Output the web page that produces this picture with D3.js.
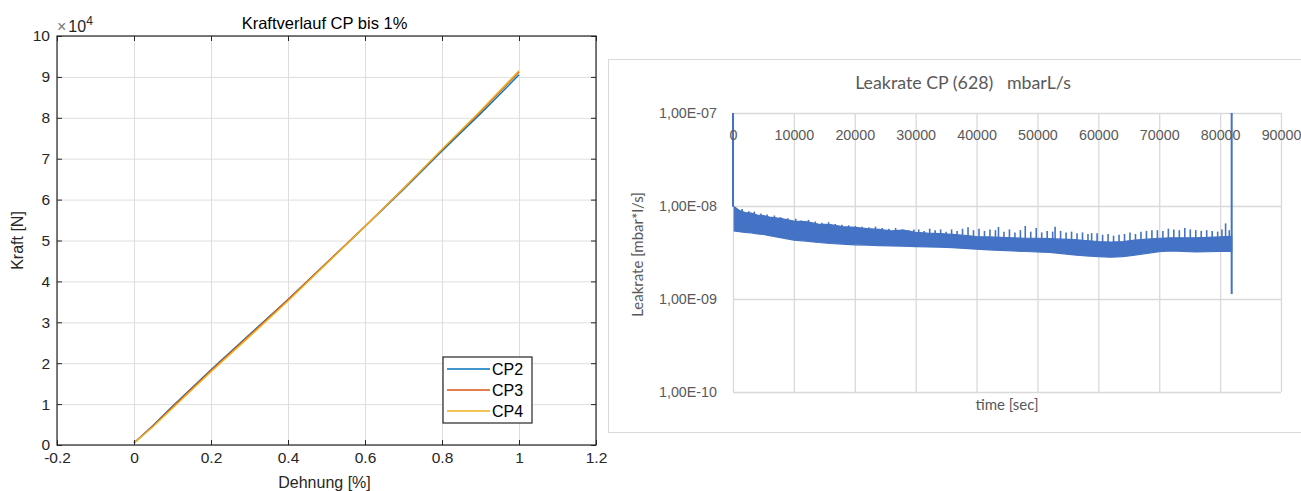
<!DOCTYPE html>
<html><head><meta charset="utf-8">
<script src="https://cdn.jsdelivr.net/npm/d3@7"></script>
<style>
body{margin:0;background:#fff}
text{font-kerning:normal}
</style>
</head><body>
<svg id="c" width="1301" height="491"></svg>
<script>
// ---------- Left chart data (Kraftverlauf) ----------
const strain = [0, 0.05, 0.1, 0.2, 0.3, 0.4, 0.5, 0.6, 0.7, 0.8, 0.9, 1.0];
const forceCP2 = [500, 4800, 9500, 18400, 27000, 35600, 44500, 53400, 62500, 71900, 81000, 90500];
const forceCP3 = [500, 4700, 9300, 18200, 26800, 35500, 44500, 53500, 62700, 72200, 81500, 91200];
const forceCP4 = [500, 4500, 9000, 17900, 26500, 35200, 44300, 53400, 62700, 72300, 81700, 91500];
const seriesNames = ["CP2", "CP3", "CP4"];
const xTicksLeft = [-0.2, 0, 0.2, 0.4, 0.6, 0.8, 1, 1.2];
const xTickLabelsLeft = ["-0.2", "0", "0.2", "0.4", "0.6", "0.8", "1", "1.2"];
const yTicksLeft = [0, 10000, 20000, 30000, 40000, 50000, 60000, 70000, 80000, 90000, 100000];
const yTickLabelsLeft = ["0", "1", "2", "3", "4", "5", "6", "7", "8", "9", "10"];

// ---------- Right chart data (Leakrate) ----------
const bandTime = [200, 1000, 2000, 3000, 4000, 5000, 6000, 8000, 10000, 12000, 14000, 16000, 18000, 20000,
  22000, 24000, 26000, 28000, 30000, 32000, 34000, 36000, 38000, 40000, 42000, 44000, 46000, 48000, 50000,
  52000, 54000, 56000, 58000, 60000, 62000, 64000, 66000, 68000, 70000, 72000, 74000, 76000, 78000, 80000, 81900];
const bandUpper = [9.8e-9, 9.0e-9, 8.5e-9, 8.4e-9, 8.0e-9, 7.9e-9, 7.6e-9, 7.3e-9, 6.9e-9, 6.8e-9, 6.4e-9, 6.3e-9,
  6.0e-9, 5.9e-9, 5.7e-9, 5.6e-9, 5.4e-9, 5.5e-9, 5.2e-9, 5.1e-9, 5.05e-9, 4.95e-9, 4.85e-9, 4.7e-9, 4.65e-9,
  4.6e-9, 4.55e-9, 4.5e-9, 4.5e-9, 4.45e-9, 4.4e-9, 4.35e-9, 4.25e-9, 4.15e-9, 4.1e-9, 4.15e-9, 4.3e-9, 4.4e-9,
  4.5e-9, 4.55e-9, 4.55e-9, 4.55e-9, 4.6e-9, 4.65e-9, 4.7e-9];
const bandLower = [5.4e-9, 5.3e-9, 5.2e-9, 5.15e-9, 5.0e-9, 4.95e-9, 4.8e-9, 4.55e-9, 4.3e-9, 4.2e-9, 4.05e-9, 3.95e-9,
  3.9e-9, 3.82e-9, 3.8e-9, 3.75e-9, 3.72e-9, 3.7e-9, 3.66e-9, 3.63e-9, 3.6e-9, 3.56e-9, 3.5e-9, 3.43e-9, 3.38e-9,
  3.33e-9, 3.28e-9, 3.24e-9, 3.2e-9, 3.17e-9, 3.08e-9, 2.98e-9, 2.9e-9, 2.86e-9, 2.82e-9, 2.85e-9, 2.97e-9, 3.1e-9,
  3.22e-9, 3.28e-9, 3.25e-9, 3.2e-9, 3.22e-9, 3.25e-9, 3.25e-9];
const spikeTime = [1500, 2600, 3500, 4600, 5600, 6800, 7800, 9000, 10300, 11200, 12400, 13500, 14600, 15700, 16800,
  17900, 19000, 20100, 21200, 22300, 23400, 24500, 25600, 26700, 27800, 28900, 29700,
  30500, 31400, 32300, 33200, 34100, 35000, 35900, 36800, 37700, 38600, 39500, 40400, 41300, 42200, 43100, 43600,
  44500, 45400, 46300, 47200, 48000, 48900, 49800, 50700, 51600, 52500, 52900, 53800, 54700, 55600, 56500, 57400,
  58300, 58900, 59800, 60700, 61600, 62500, 63400, 64300, 65200, 66100, 67000, 67900, 68800, 69700, 70600, 71500,
  72400, 73300, 74200, 75100, 76000, 76900, 77800, 78700, 79600, 80300, 80900, 81500];
const spikePeak = [9.3e-9, 8.8e-9, 8.7e-9, 8.3e-9, 8.1e-9, 7.9e-9, 7.6e-9, 7.4e-9, 7.3e-9, 7.0e-9, 7.1e-9, 6.8e-9,
  6.6e-9, 6.7e-9, 6.4e-9, 6.3e-9, 6.2e-9, 6.1e-9, 6.0e-9, 5.9e-9, 6.0e-9, 5.8e-9, 5.7e-9, 5.8e-9, 5.6e-9, 5.5e-9, 5.6e-9,
  5.6e-9, 5.4e-9, 5.7e-9, 5.5e-9, 5.6e-9, 5.3e-9, 5.6e-9, 5.4e-9, 5.7e-9, 5.9e-9, 5.5e-9, 5.7e-9, 5.4e-9, 5.6e-9, 5.5e-9,
  5.95e-9, 5.3e-9, 5.6e-9, 5.2e-9, 5.5e-9, 6.1e-9, 5.3e-9, 5.8e-9, 5.2e-9, 5.4e-9, 5.3e-9, 6.0e-9, 5.4e-9, 5.2e-9,
  5.3e-9, 5.1e-9, 5.2e-9, 5.0e-9, 5.1e-9, 5.1e-9, 4.9e-9, 5.0e-9, 4.8e-9, 4.9e-9, 5.0e-9, 5.2e-9, 5.0e-9, 5.3e-9,
  5.4e-9, 5.5e-9, 5.5e-9, 5.4e-9, 5.7e-9, 5.6e-9, 5.5e-9, 5.8e-9, 5.6e-9, 5.5e-9, 5.4e-9, 5.5e-9, 5.4e-9, 5.3e-9,
  5.6e-9, 6.5e-9, 5.5e-9];
const edgeTime = [0, 81900];        // spikes at start and end of measurement
const edgeTop = [1e-7, 1e-7];
const edgeBottom = [9.8e-9, 1.13e-9];
const xTicksRight = [0, 10000, 20000, 30000, 40000, 50000, 60000, 70000, 80000, 90000];
const yTicksRight = [1e-10, 1e-9, 1e-8, 1e-7];
const yTickLabelsRight = ["1,00E-10", "1,00E-09", "1,00E-08", "1,00E-07"];

const svg = d3.select("#c");

// ================= LEFT CHART =================
(function(){
  const L = 57, R = 596, T = 36, B = 445;
  const x = d3.scaleLinear([-0.2, 1.2], [L, R]);
  const y = d3.scaleLinear([0, 100000], [B, T]);
  const g = svg.append("g").attr("font-family", "'Liberation Sans', Arial, sans-serif");
  const axisCol = "#262626";

  // grid
  const grid = g.append("g");
  grid.append("g").attr("transform", `translate(0,${B})`)
    .call(d3.axisBottom(x).tickValues(xTicksLeft).tickSize(-(B - T)).tickFormat(""))
    .call(s => { s.select(".domain").remove(); s.selectAll("line").attr("stroke", "#dedede").attr("stroke-width", 1); });
  grid.append("g").attr("transform", `translate(${L},0)`)
    .call(d3.axisLeft(y).tickValues(yTicksLeft).tickSize(-(R - L)).tickFormat(""))
    .call(s => { s.select(".domain").remove(); s.selectAll("line").attr("stroke", "#dedede").attr("stroke-width", 1); });

  // lines
  const colors = ["#0072BD", "#D95319", "#EDB120"];
  const data = [forceCP2, forceCP3, forceCP4];
  const line = d3.line().x((d, i) => x(strain[i])).y(d => y(d));
  data.forEach((arr, k) => {
    g.append("path").attr("d", line(arr)).attr("fill", "none")
      .attr("stroke", colors[k]).attr("stroke-width", 1.4);
  });

  // axes
  const styleAxis = s => {
    s.select(".domain").remove();
    s.selectAll("line").attr("stroke", axisCol).attr("stroke-width", 1);
    s.selectAll("text").attr("fill", axisCol).attr("font-size", 15.5);
  };
  g.append("g").attr("transform", `translate(0,${B})`)
    .call(d3.axisBottom(x).tickValues(xTicksLeft).tickSizeInner(-5).tickSizeOuter(0).tickPadding(7)
      .tickFormat((d, i) => xTickLabelsLeft[i]))
    .call(styleAxis);
  g.append("g").attr("transform", `translate(0,${T})`)
    .call(d3.axisTop(x).tickValues(xTicksLeft).tickSizeInner(-5).tickSizeOuter(0).tickFormat(""))
    .call(styleAxis);
  g.append("g").attr("transform", `translate(${L},0)`)
    .call(d3.axisLeft(y).tickValues(yTicksLeft).tickSizeInner(-5).tickSizeOuter(0).tickPadding(7)
      .tickFormat((d, i) => yTickLabelsLeft[i]))
    .call(styleAxis);
  g.append("g").attr("transform", `translate(${R},0)`)
    .call(d3.axisRight(y).tickValues(yTicksLeft).tickSizeInner(-5).tickSizeOuter(0).tickFormat(""))
    .call(styleAxis);
  g.append("rect").attr("x", L).attr("y", T).attr("width", R - L).attr("height", B - T)
    .attr("fill", "none").attr("stroke", axisCol).attr("stroke-width", 1.2);

  // exponent label
  const ex = g.append("text").attr("x", L).attr("y", 32).attr("fill", axisCol).attr("font-size", 16);
  ex.append("tspan").text("\u00d7").attr("fill", "#777");
  ex.append("tspan").text("10").attr("dx", 2);
  ex.append("tspan").text("4").attr("font-size", 12).attr("dy", -7);

  // title & labels
  g.append("text").attr("x", (L + R) / 2 - 2).attr("y", 29).attr("text-anchor", "middle")
    .attr("font-size", 16.5).attr("fill", "#000").text("Kraftverlauf CP bis 1%");
  g.append("text").attr("x", (L + R) / 2 - 2).attr("y", 488).attr("text-anchor", "middle")
    .attr("font-size", 16).attr("fill", axisCol).text("Dehnung [%]");
  g.append("text").attr("transform", `translate(23,${(T + B) / 2}) rotate(-90)`).attr("text-anchor", "middle")
    .attr("font-size", 16).attr("fill", axisCol).text("Kraft [N]");

  // legend
  const lx = 443, ly = 357;
  g.append("rect").attr("x", lx).attr("y", ly).attr("width", 89).attr("height", 66)
    .attr("fill", "#fff").attr("stroke", axisCol).attr("stroke-width", 1.2);
  seriesNames.forEach((n, k) => {
    const yy = ly + 12 + k * 21;
    g.append("line").attr("x1", lx + 4).attr("x2", lx + 47).attr("y1", yy).attr("y2", yy)
      .attr("stroke", colors[k]).attr("stroke-width", 1.4);
    g.append("text").attr("x", lx + 49).attr("y", yy + 6).attr("font-size", 16).attr("fill", "#000").text(n);
  });
})();

// ================= RIGHT CHART =================
(function(){
  const L = 733, R = 1281, T = 113, B = 392;
  const x = d3.scaleLinear([0, 90000], [L, R]);
  const y = d3.scaleLog([1e-10, 1e-7], [B, T]);
  const g = svg.append("g").attr("font-family", "Lato, 'Open Sans', sans-serif");
  const txt = "#595959", gridCol = "#d9d9d9", blue = "#4472C4";

  // outer chart area border
  g.append("rect").attr("x", 608.5).attr("y", 59.5).attr("width", 720).attr("height", 373)
    .attr("fill", "#fff").attr("stroke", gridCol).attr("stroke-width", 1);

  // gridlines
  g.append("g").attr("transform", `translate(0,${B})`)
    .call(d3.axisBottom(x).tickValues(xTicksRight).tickSize(-(B - T)).tickFormat(""))
    .call(s => { s.select(".domain").remove(); s.selectAll("line").attr("stroke", gridCol).attr("stroke-width", 1.3); });
  g.append("g").attr("transform", `translate(${L},0)`)
    .call(d3.axisLeft(y).tickValues(yTicksRight).tickSize(-(R - L)).tickFormat(""))
    .call(s => { s.select(".domain").remove(); s.selectAll("line").attr("stroke", gridCol).attr("stroke-width", 1.3); });

  // band
  const area = d3.area().x((d, i) => x(bandTime[i])).y0((d, i) => y(bandLower[i])).y1(d => y(d));
  g.append("path").attr("d", area(bandUpper)).attr("fill", blue).attr("stroke", blue).attr("stroke-width", 1.2);
  const upperAt = d3.scaleLinear(bandTime, bandUpper).clamp(true);
  g.append("g").selectAll("line").data(spikeTime).join("line")
    .attr("x1", d => x(d)).attr("x2", d => x(d))
    .attr("y1", d => y(upperAt(d) * 0.97)).attr("y2", (d, i) => y(spikePeak[i]))
    .attr("stroke", blue).attr("stroke-width", 1.6);
  g.append("g").selectAll("line").data(edgeTime).join("line")
    .attr("x1", d => x(d)).attr("x2", d => x(d))
    .attr("y1", (d, i) => y(edgeTop[i])).attr("y2", (d, i) => y(edgeBottom[i]))
    .attr("stroke", blue).attr("stroke-width", 2);

  // tick labels
  g.append("g").attr("transform", `translate(0,${T})`)
    .call(d3.axisBottom(x).tickValues(xTicksRight).tickSize(0).tickPadding(17).tickFormat(d3.format("d")))
    .call(s => { s.select(".domain").remove(); s.selectAll("text").attr("fill", txt).attr("font-size", 14.3); });
  g.append("g").attr("transform", `translate(${L},0)`)
    .call(d3.axisLeft(y).tickValues(yTicksRight).tickSize(0).tickPadding(16)
      .tickFormat((d, i) => yTickLabelsRight[i]))
    .call(s => { s.select(".domain").remove(); s.selectAll("text").attr("fill", txt).attr("font-size", 14.3); });

  // titles
  g.append("text").attr("x", 963).attr("y", 89).attr("text-anchor", "middle").attr("font-size", 17.8)
    .attr("fill", txt).attr("xml:space", "preserve").style("white-space", "pre").text("Leakrate CP (628)   mbarL/s");
  g.append("text").attr("x", 1007).attr("y", 410).attr("text-anchor", "middle").attr("font-size", 15)
    .attr("fill", txt).text("time [sec]");
  g.append("text").attr("transform", `translate(643,${(T + B) / 2 + 2}) rotate(-90)`).attr("text-anchor", "middle")
    .attr("font-size", 15).attr("fill", txt).text("Leakrate [mbar*l/s]");
})();
</script>
</body></html>
